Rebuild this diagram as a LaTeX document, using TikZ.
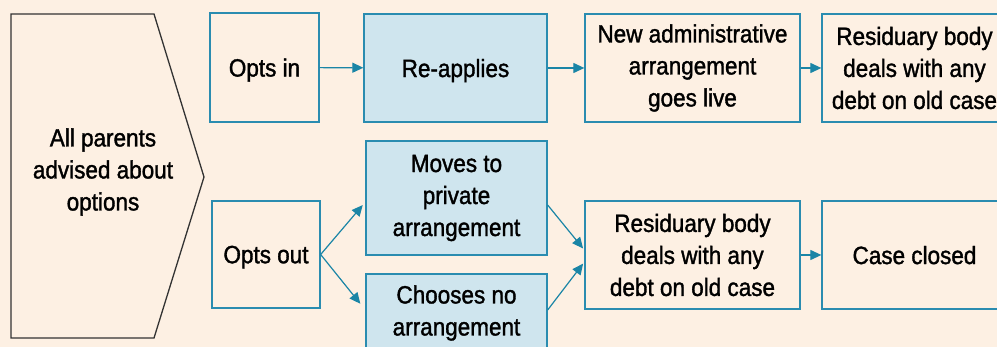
\documentclass[tikz,border=0pt]{standalone}
\usepackage{fontspec}
\setmainfont{Liberation Sans}[FakeStretch=0.9,FakeBold=1.4]
\usepackage{tikz}
\usetikzlibrary{arrows.meta,calc}
\definecolor{bgbeige}{HTML}{FDF0E3}
\definecolor{boxline}{HTML}{2A8CB0}
\definecolor{boxfill}{HTML}{CFE5EE}
\definecolor{arrline}{HTML}{1A85A6}

\begin{document}
\begin{tikzpicture}[x=1pt,y=-1pt,
	box/.style={draw=boxline,line width=1.3pt,align=center,inner sep=0pt,
		font=\fontsize{25}{32}\selectfont},
	oneline/.style={text depth=0pt},
	filled/.style={box,fill=boxfill},
	arr/.style={draw=arrline,line width=1.2pt,-{Triangle[length=11pt,width=10pt]}}]
	\useasboundingbox (0,0) rectangle (997,347);
	\fill[bgbeige] (0,0) rectangle (997,347);
	\clip (0,0) rectangle (997,347);
	\draw[line width=1.3pt,draw=black!80] (11,14) -- (154,14) -- (204,177)
		-- (154,338) -- (11,338) -- cycle;
	\node[font=\fontsize{25}{32}\selectfont,align=center] (all) at (103,172)
		{All parents\\advised about\\options};
	\node[box,oneline,minimum width=109,minimum height=109] (optin) at (264.5,67.5) {Opts in};
	\node[box,oneline,minimum width=108,minimum height=107] (optout) at (266,254.5) {Opts out};
	\node[filled,oneline,minimum width=183,minimum height=108] (reapp) at (455.5,68) {Re-applies};
	\node[filled,minimum width=181,minimum height=114] (moves) at (456.5,198)
		{Moves to\\private\\arrangement};
	\node[filled,minimum width=181,minimum height=78] (nochoice) at (456.5,313)
		{Chooses no\\arrangement};
	\node[box,minimum width=215,minimum height=108] (newadmin) at (692.5,68)
		{New administrative\\arrangement\\goes live};
	\node[box,minimum width=185,minimum height=108] (residin) at (914.5,68)
		{Residuary body\\deals with any\\debt on old case};
	\node[box,minimum width=215,minimum height=108] (residout) at (692.5,255)
		{Residuary body\\deals with any\\debt on old case};
	\node[box,oneline,minimum width=185,minimum height=108] (closed) at (914.5,255) {Case closed};
	\draw[arr] (optin) -- (reapp);
	\draw[arr] (reapp) -- (newadmin);
	\draw[arr] (newadmin) -- (residin);
	\draw[arr,shorten >=4pt] (optout.east) -- ($(moves.west)+(0,4)$);
	\draw[arr,shorten >=8pt] (optout.east) -- ($(nochoice.west)+(0,-3)$);
	\draw[arr,shorten >=2pt] ($(moves.east)+(0,7)$) -- ($(residout.west)+(0,-5)$);
	\draw[arr,shorten >=2pt] ($(nochoice.east)+(0,-3)$) -- ($(residout.west)+(0,7)$);
	\draw[arr] (residout) -- (closed);
\end{tikzpicture}
\end{document}
